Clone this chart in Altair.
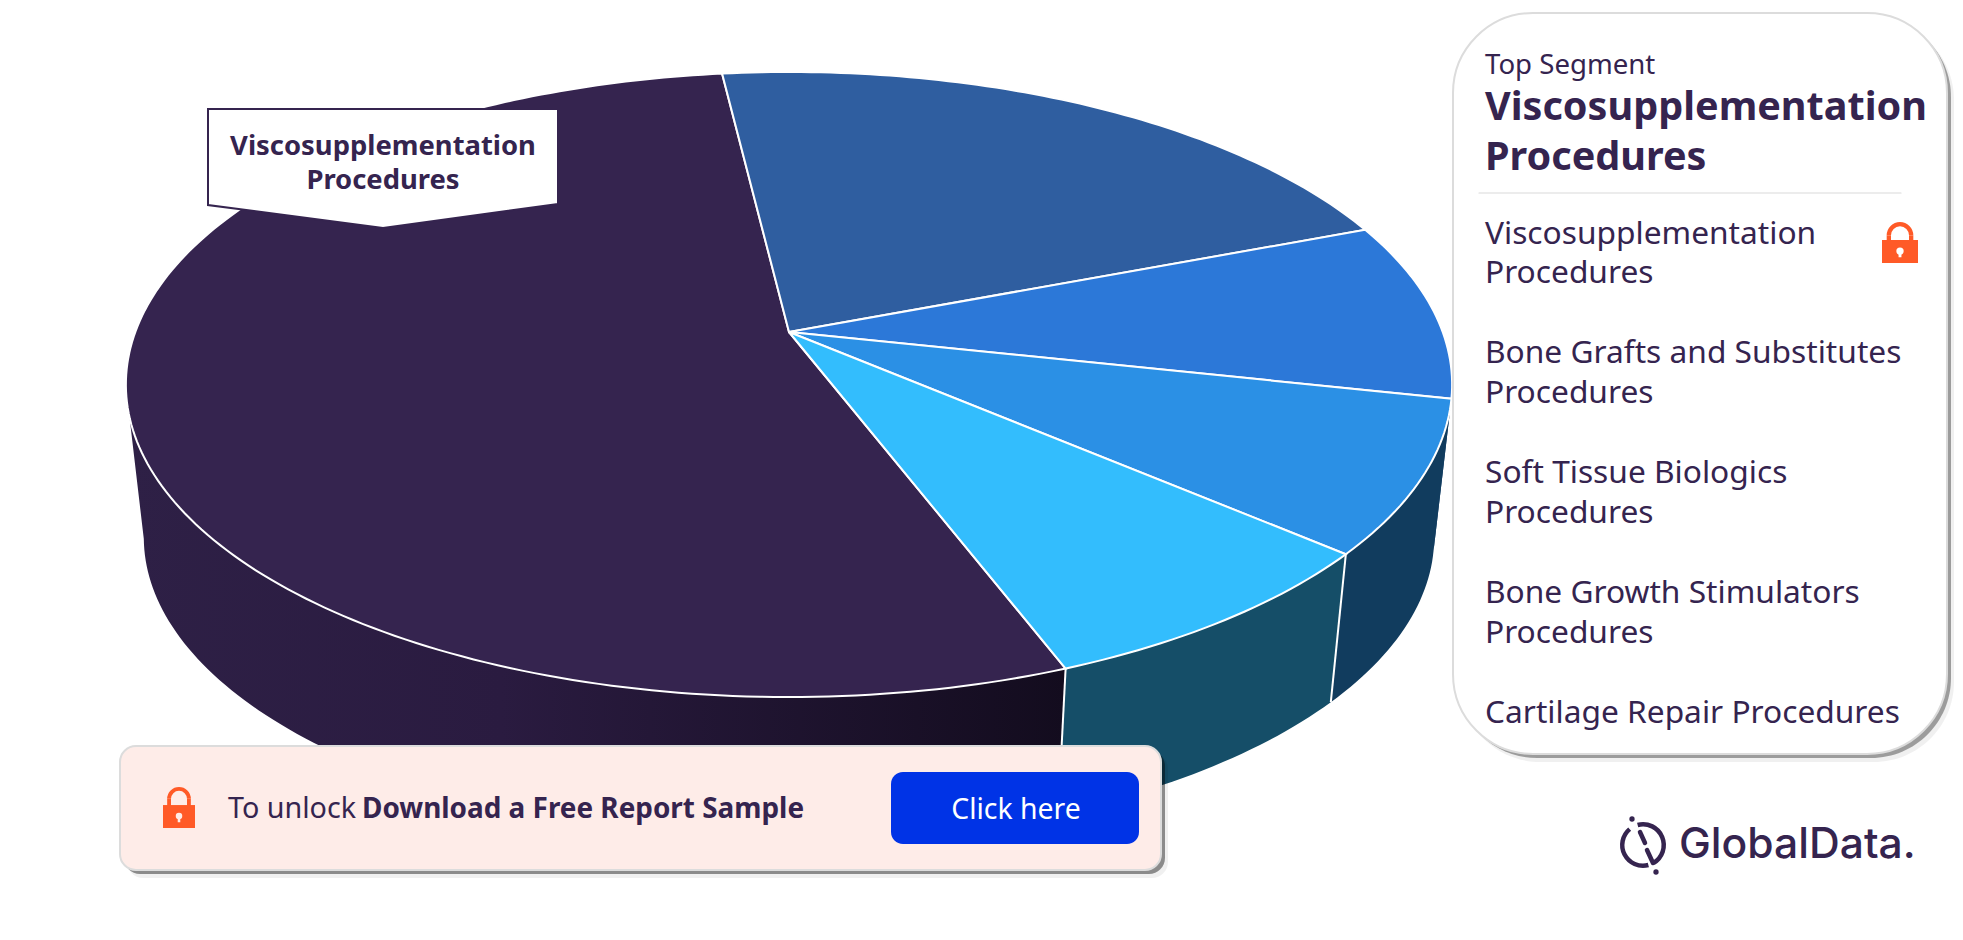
import math
import altair as alt
import pandas as pd

# ---- data ----
categories = ["Viscosupplementation Procedures", "Bone Grafts and Substitutes Procedures",
              "Soft Tissue Biologics Procedures", "Bone Growth Stimulators Procedures",
              "Cartilage Repair Procedures"]
shares = [53.9, 21.1, 9.2, 7.9, 7.9]
top_colors = ["#35244f", "#2f5ea0", "#2c78d8", "#2b90e5", "#33bdfd"]
wall_colors = ["#2a1c40", "#1c3a63", "#143f6e", "#113c5e", "#154e68"]
legend_lines = [["Viscosupplementation", "Procedures"], ["Bone Grafts and Substitutes", "Procedures"],
                ["Soft Tissue Biologics", "Procedures"], ["Bone Growth Stimulators", "Procedures"],
                ["Cartilage Repair Procedures"]]
header = "Top Segment"
top_name = ["Viscosupplementation", "Procedures"]
cta_plain = "To unlock"
cta_bold = "Download a Free Report Sample"
cta_button = "Click here"
brand = "GlobalData."

DARK = "#35244f"
ORANGE = "#ff5a27"
FONT = "Noto Sans"
W, H = 1947, 922
OFF = 8

# perspective disc geometry
APEX_X, APEX_Y, A, B, K = 789.0, 332.0, 653.7, 303.7, -0.168
BASE_SCALE, DROP = 0.973, 154.0
START = 69.1


def top_pt(t):
    r = math.radians(t)
    d = 1 + K * math.sin(r)
    return [APEX_X + A * math.cos(r) / d - OFF, APEX_Y + B * math.sin(r) / d - OFF]


def base_pt(t):
    p = top_pt(t)
    ax, ay = APEX_X - OFF, APEX_Y - OFF
    return [ax + BASE_SCALE * (p[0] - ax), ay + DROP + BASE_SCALE * (p[1] - ay)]


def sweep(a, b, step=1.0):
    n = max(2, int(abs(b - a) / step) + 1)
    return [a + (b - a) * i / (n - 1) for i in range(n)]


def poly(coords, name):
    return {"type": "Feature", "properties": {"name": name},
            "geometry": {"type": "Polygon", "coordinates": [coords + [coords[0]]]}}


def line(coords, name):
    return {"type": "Feature", "properties": {"name": name},
            "geometry": {"type": "LineString", "coordinates": coords}}


# slice angles from the shares
edges = [START]
for s in shares:
    edges.append(edges[-1] + s * 3.6)
tops, walls, seams = [], [], []
for i, c in enumerate(categories):
    a, b = edges[i], edges[i + 1]
    apex = [APEX_X - OFF, APEX_Y - OFF]
    tops.append(poly([apex] + [top_pt(t) for t in sweep(a, b)], c))
    wa, wb = None, None
    for shift in (-360, 0, 360):
        x0, x1 = max(a + shift, 10), min(b + shift, 170)
        if x1 > x0:
            wa, wb = x0, x1
    if wa is not None:
        ts = sweep(wa, wb)
        walls.append(poly([top_pt(t) for t in ts] + [base_pt(t) for t in reversed(ts)], c))
    for shift in (-360, 0, 360):
        t = a + shift
        if 15 < t < 170:
            seams.append(line([top_pt(t), base_pt(t)], c))

proj = dict(type="identity", scale=1, translate=[0, 0])
color_top = alt.Color("properties.name:N", scale=alt.Scale(domain=categories, range=top_colors), legend=None)
fill_wall = alt.Fill("properties.name:N", scale=alt.Scale(domain=categories, range=wall_colors), legend=None)

# purple wall keeps its horizontal gradient
wall_gradient = alt.Gradient(gradient="linear", x1=0, x2=1, y1=0, y2=0,
                             stops=[alt.GradientStop(offset=0, color="#2e2046"),
                                    alt.GradientStop(offset=0.4, color="#2a1b40"),
                                    alt.GradientStop(offset=1, color="#130c1e")])
layers = []
layers.append(alt.Chart(alt.Data(values=walls[1:])).mark_geoshape(strokeWidth=0).encode(fill=fill_wall).project(**proj))
layers.append(alt.Chart(alt.Data(values=walls[:1])).mark_geoshape(fill=wall_gradient, strokeWidth=0).project(**proj))
layers.append(alt.Chart(alt.Data(values=tops)).mark_geoshape(stroke="white", strokeWidth=2).encode(color=color_top).project(**proj))
layers.append(alt.Chart(alt.Data(values=seams)).mark_geoshape(filled=False, stroke="white", strokeWidth=2).project(**proj))

one = pd.DataFrame({"a": [0]})


def rect(x0, y0, x1, y1, fill, radius=0, stroke=None, sw=0, opacity=1):
    kw = dict(fill=fill, cornerRadius=radius, opacity=opacity)
    if stroke:
        kw.update(stroke=stroke, strokeWidth=sw)
    return alt.Chart(one).mark_rect(**kw).encode(
        x=alt.value(x0 - OFF), x2=alt.value(x1 - OFF), y=alt.value(y0 - OFF), y2=alt.value(y1 - OFF))


def txt(s, x, y, size, weight=400, color=DARK, align="left", font=FONT):
    return alt.Chart(one).mark_text(text=s, font=font, fontSize=size, fontWeight=weight, fill=color,
                                    align=align, baseline="alphabetic").encode(
        x=alt.value(x - OFF), y=alt.value(y - OFF))


def ring(cx, cy, r, w, a0, a1, color):
    return alt.Chart(one).mark_arc(radius=r, radius2=r - w, theta=math.radians(a0), theta2=math.radians(a1),
                                   fill=color).encode(x=alt.value(cx - OFF), y=alt.value(cy - OFF))


def dot(cx, cy, diam, color):
    return alt.Chart(one).mark_point(filled=True, size=diam * diam * 0.785, fill=color, opacity=1, strokeWidth=0).encode(
        x=alt.value(cx - OFF), y=alt.value(cy - OFF))


def seg(x0, y0, x1, y1, w, color):
    return alt.Chart(one).mark_rule(stroke=color, strokeWidth=w, strokeCap="round").encode(
        x=alt.value(x0 - OFF), x2=alt.value(x1 - OFF), y=alt.value(y0 - OFF), y2=alt.value(y1 - OFF))


def lock(x0, y0, x1, y1, keyfill="white"):
    w, h = x1 - x0, y1 - y0
    cx = (x0 + x1) / 2
    body_top = y0 + h * 0.44
    r = w * 0.37
    tw = w * 0.12
    arc_y = y0 + r
    out = [ring(cx, arc_y, r, tw, 270, 450, ORANGE),
           rect(cx - r, arc_y, cx - r + tw, body_top + 1, ORANGE),
           rect(cx + r - tw, arc_y, cx + r, body_top + 1, ORANGE),
           rect(x0, body_top, x1, y1, ORANGE),
           dot(cx, y0 + h * 0.71, w * 0.23, keyfill),
           rect(cx - w * 0.04, y0 + h * 0.71, cx + w * 0.04, y0 + h * 0.86, keyfill)]
    return out


# callout
callout_pts = [[208, 109], [558, 109], [558, 204], [383, 228], [208, 205]]
callout = poly([[x - OFF, y - OFF] for x, y in callout_pts], "callout")
layers.append(alt.Chart(alt.Data(values=[callout])).mark_geoshape(fill="white", stroke=DARK, strokeWidth=2).project(**proj))
layers.append(txt(top_name[0], 383, 155, 27.4, 700, align="center"))
layers.append(txt(top_name[1], 383, 189, 27.4, 700, align="center"))

# right panel
layers.append(rect(1460, 20, 1954, 762, "#000000", 80, opacity=0.06))
layers.append(rect(1457, 17, 1951, 758, "#000000", 80, opacity=0.35))
layers.append(rect(1453, 13, 1947, 754, "white", 80, stroke="#dcdcdc", sw=2))
layers.append(txt(header, 1485, 74, 27.6))
layers.append(txt(top_name[0], 1485, 120, 39.6, 700))
layers.append(txt(top_name[1], 1485, 170, 39.6, 700))
layers.append(seg(1479, 193, 1901, 193, 1.2, "#d9d9d9"))
baselines = [[244, 283], [363, 403], [483, 523], [603, 643], [723]]
for lines, ys in zip(legend_lines, baselines):
    for ln, y in zip(lines, ys):
        layers.append(txt(ln, 1485, y, 31.7))
layers += lock(1882, 222, 1918, 263)

# call to action
layers.append(rect(127, 753, 1168, 878, "#000000", 16, opacity=0.06))
layers.append(rect(124, 750, 1165, 874, "#000000", 16, opacity=0.42))
layers.append(rect(120, 746, 1161, 870, "#feece8", 16, stroke="#dcdcdc", sw=2))
layers += lock(163, 787, 195, 828, keyfill="#feece8")
layers.append(txt(cta_plain, 228, 818, 28.7))
layers.append(txt(cta_bold, 362, 818, 27.9, 700))
layers.append(rect(891, 772, 1139, 844, "#0033e6", 12))
layers.append(txt(cta_button, 1016, 819, 28.4, color="white", align="center"))

# brand mark
layers.append(ring(1643, 845, 23, 4.5, 345, 510, DARK))
layers.append(ring(1643, 845, 23, 4.5, 165, 320, DARK))
layers.append(dot(1632, 819, 6, DARK))
layers.append(dot(1656, 872, 6, DARK))
layers.append(seg(1640, 832, 1645, 843, 4.5, DARK))
layers.append(seg(1647, 850, 1653, 863, 4.5, DARK))
layers.append(txt(brand, 1679, 858, 42.6, 500, font="Inter"))

chart = alt.layer(*layers).properties(
    width=W, height=H, padding=0, autosize=alt.AutoSizeParams(type="none"), background="white"
).configure_view(stroke=None)

chart.save("out.html", embed_options={"renderer": "svg", "actions": False})
